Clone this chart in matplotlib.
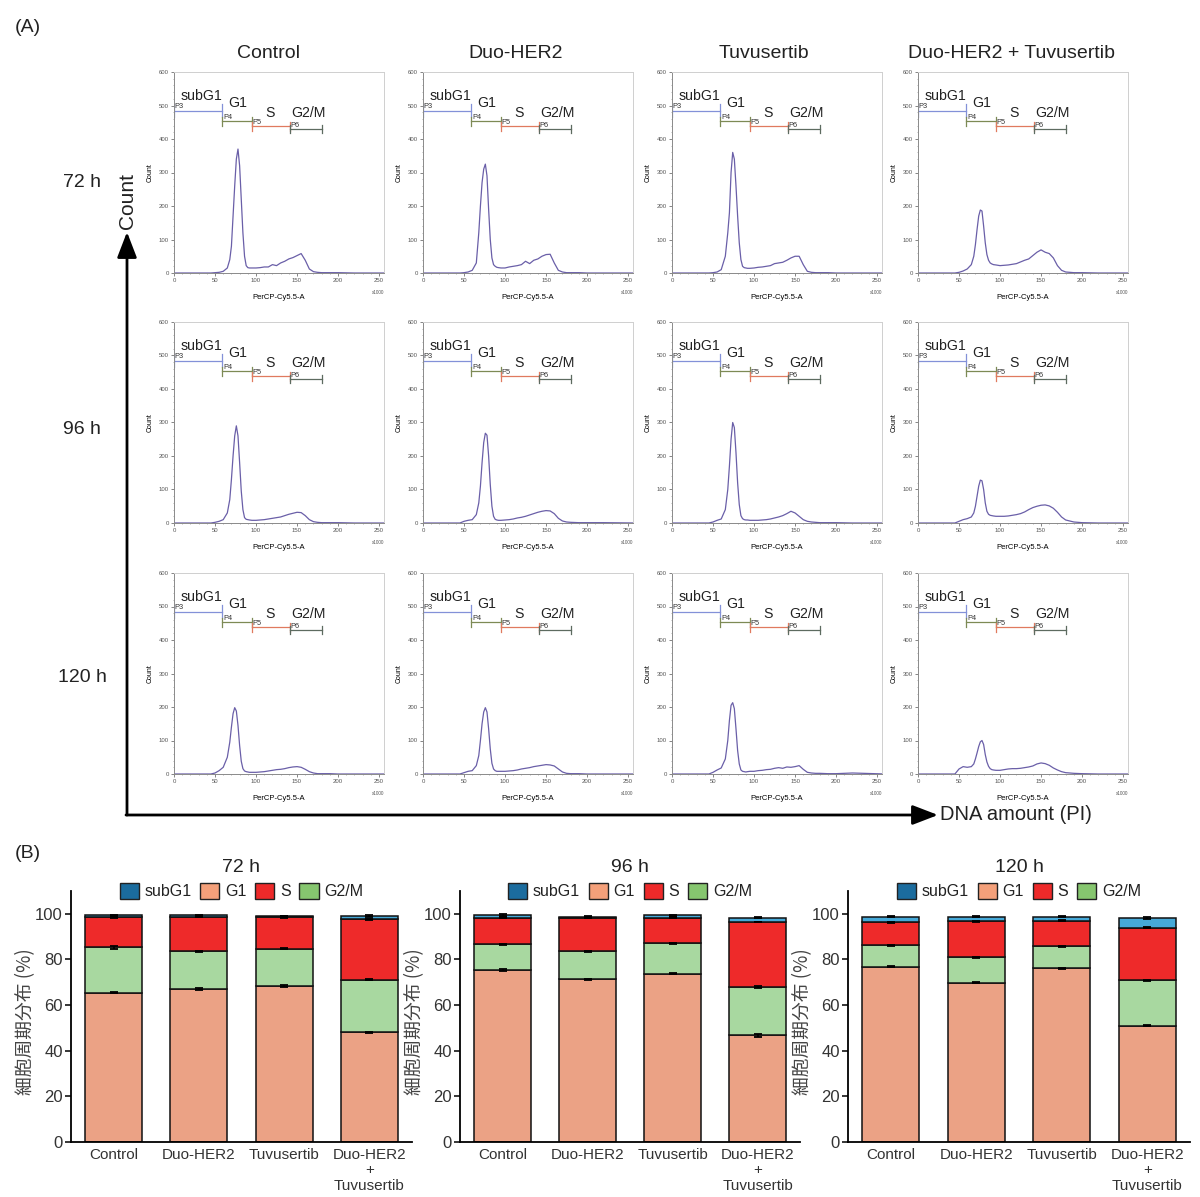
import matplotlib

matplotlib.use("Agg")
import matplotlib.patches as mpatches
import matplotlib.pyplot as plt
from matplotlib.ticker import MultipleLocator

W, H = 1200, 1197

TEXT = "#222222"
TRACE = "#6a5fa8"

CONDITIONS = ["Control", "Duo-HER2", "Tuvusertib", "Duo-HER2 + Tuvusertib"]
BAR_LABELS = ["Control", "Duo-HER2", "Tuvusertib", "Duo-HER2\n+\nTuvusertib"]
TIMES = ["72 h", "96 h", "120 h"]

# --- (A) DNA histograms: counts (x in units of 1000)
HIST_X = [0, 30, 45, 50, 55, 60,
          65, 68, 70, 72, 74, 76, 78, 80, 82, 84, 86, 88, 90, 92,
          95, 100, 105, 110, 115, 120, 125, 130, 135, 140,
          145, 150, 155, 160, 165, 170, 175, 180,
          190, 200, 220, 260]

COUNTS_72H = [
    [0, 0, 0, 1, 2, 5,
     15, 40, 80, 170, 260, 340, 370, 320, 220, 120, 50, 22, 16, 15,
     15, 15, 16, 18, 18, 25, 22, 30, 35, 42,
     46, 52, 58, 38, 12, 4, 2, 1,
     1, 1, 0, 0],
    [0, 0, 0, 1, 3, 8,
     30, 120, 200, 270, 310, 325, 290, 190, 100, 45, 25, 20, 17, 16,
     15, 15, 18, 20, 22, 25, 35, 28, 38, 42,
     50, 55, 56, 30, 8, 3, 1, 1,
     1, 0, 0, 0],
    [0, 0, 0, 1, 3, 10,
     50, 120, 180, 300, 360, 340, 260, 170, 90, 40, 20, 16, 15, 14,
     14, 15, 17, 18, 20, 22, 28, 30, 32, 38,
     45, 50, 50, 25, 5, 2, 1, 1,
     1, 0, 0, 0],
    [0, 0, 0, 2, 6, 12,
     25, 50, 85, 130, 170, 188, 185, 140, 90, 55, 38, 30, 27, 25,
     24, 22, 23, 24, 26, 28, 33, 38, 42, 52,
     62, 69, 62, 58, 45, 22, 8, 3,
     1, 1, 0, 0],
]
COUNTS_96H = [
    [0, 0, 0, 2, 5, 10,
     30, 70, 130, 200, 260, 290, 260, 180, 95, 40, 16, 11, 10, 9,
     8, 8, 9, 10, 12, 14, 16, 18, 22, 26,
     29, 32, 31, 22, 10, 4, 2, 1,
     1, 1, 0, 0],
    [0, 0, 0, 5, 8, 10,
     25, 60, 110, 180, 240, 268, 262, 200, 115, 50, 20, 11, 9, 8,
     8, 9, 10, 12, 15, 17, 20, 24, 28, 32,
     35, 37, 36, 28, 14, 6, 3, 2,
     1, 1, 1, 0],
    [0, 0, 0, 3, 8, 12,
     40, 100, 170, 250, 300, 285, 210, 120, 55, 22, 13, 10, 9, 9,
     8, 8, 8, 9, 10, 12, 15, 18, 22, 28,
     35, 30, 20, 10, 5, 3, 2, 1,
     1, 1, 0, 0],
    [0, 0, 0, 5, 10, 13,
     18, 30, 50, 80, 110, 128, 126, 100, 60, 35, 26, 23, 22, 21,
     20, 20, 20, 21, 23, 25, 28, 33, 40, 46,
     50, 53, 54, 51, 44, 32, 18, 9,
     3, 1, 0, 0],
]
COUNTS_120H = [
    [0, 0, 0, 3, 10, 20,
     50, 95, 140, 180, 198, 188, 145, 85, 38, 16, 9, 7, 6, 5,
     5, 5, 6, 7, 9, 11, 13, 14, 16, 19,
     21, 22, 20, 14, 7, 3, 1, 1,
     1, 0, 0, 0],
    [0, 0, 0, 4, 8, 10,
     25, 55, 100, 150, 185, 198, 185, 135, 75, 32, 15, 10, 8, 8,
     8, 8, 9, 10, 12, 15, 17, 19, 22, 24,
     26, 28, 27, 24, 15, 6, 2, 1,
     1, 0, 0, 0],
    [0, 0, 0, 5, 12, 18,
     45, 100, 160, 205, 213, 195, 135, 70, 30, 12, 8, 7, 6, 7,
     8, 8, 10, 11, 13, 14, 17, 19, 17, 21,
     20, 22, 25, 14, 5, 3, 2, 2,
     1, 1, 3, 0],
    [0, 0, 0, 15, 22, 20,
     22, 30, 45, 63, 82, 96, 100, 88, 58, 36, 23, 16, 13, 12,
     11, 11, 13, 15, 16, 16, 17, 19, 21, 24,
     30, 33, 31, 26, 18, 12, 7, 4,
     2, 1, 0, 0],
]

GATE_NAMES = ["P3", "P4", "P5", "P6"]
GATE_LO = [0, 59, 95, 141]
GATE_HI = [59, 95, 141, 180]
GATE_LEVEL = [485, 453, 438, 430]
GATE_COLORS = ["#8391d8", "#7d8a55", "#e07a5f", "#5d6b60"]

# --- (B) cell-cycle distribution (%), one row per time point
G1_PCT = [[65.4, 67.1, 68.5, 48.0],
          [75.4, 71.3, 73.7, 46.7],
          [76.9, 69.8, 76.2, 51.0]]
G2M_PCT = [[19.9, 16.5, 16.3, 23.2],
           [11.2, 12.3, 13.3, 21.2],
           [9.3, 11.2, 9.6, 19.8]]
S_PCT = [[13.4, 15.2, 13.8, 26.5],
         [11.6, 14.6, 11.2, 28.5],
         [10.1, 15.8, 11.1, 23.2]]
SUBG1_PCT = [[0.7, 0.5, 0.3, 1.3],
             [1.2, 0.5, 1.1, 1.9],
             [2.5, 2.0, 1.9, 4.1]]

G1_SD = [[0.2, 0.3, 0.5, 0.3], [0.3, 0.2, 0.2, 0.5], [0.3, 0.2, 0.2, 0.3]]
G2M_SD = [[0.6, 0.3, 0.4, 0.3], [0.2, 0.3, 0.2, 0.3], [0.2, 0.2, 0.3, 0.3]]
S_SD = [[0.4, 0.2, 0.3, 0.2], [0.2, 0.2, 0.2, 0.2], [0.2, 0.2, 0.2, 0.2]]
SUBG1_SD = [[0.3, 0.2, 0.2, 0.4], [0.4, 0.2, 0.2, 0.3], [0.2, 0.2, 0.2, 0.3]]

BAR_COLORS = {"subG1": "#46a9d8", "G1": "#eba285", "S": "#ee2a2a", "G2/M": "#a8d8a0"}
LEGEND_COLORS = {"subG1": "#1b6c9e", "G1": "#f4a07a", "S": "#ee2a2a", "G2/M": "#86c66f"}


def px_box(left, top, right, bottom):
    """ピクセル座標の矩形を figure 座標へ変換する。"""
    return [left / W, 1 - bottom / H, (right - left) / W, (bottom - top) / H]


def fx(x):
    return x / W


def fy(y):
    return 1 - y / H


def setup_style() -> None:
    plt.rcParams.update(
        {
            "font.family": ["Liberation Sans", "Noto Sans CJK JP", "DejaVu Sans"],
            "axes.unicode_minus": False,
            "figure.facecolor": "white",
            "text.color": TEXT,
        }
    )


def draw_histogram(ax, counts) -> None:
    ax.plot(HIST_X, counts, color=TRACE, lw=0.9)
    ax.set_xlim(0, 256)
    ax.set_ylim(0, 600)

    for name, lo, hi, level, color in zip(
        GATE_NAMES, GATE_LO, GATE_HI, GATE_LEVEL, GATE_COLORS
    ):
        half = 18 if name == "P3" else 13
        ax.plot([lo, hi], [level, level], color=color, lw=0.9)
        ax.plot([lo, lo], [level - half, level + half], color=color, lw=0.9)
        ax.plot([hi, hi], [level - half, level + half], color=color, lw=0.9)
        ax.text(lo + 1, level + 1, name, fontsize=5.3, color="#333333",
                va="bottom", ha="left")

    ax.text(8, 508, "subG1", fontsize=10.2, va="bottom")
    ax.text(66, 486, "G1", fontsize=10.2, va="bottom")
    ax.text(111, 457, "S", fontsize=10.2, va="bottom")
    ax.text(143, 457, "G2/M", fontsize=10.2, va="bottom")

    ax.xaxis.set_major_locator(MultipleLocator(50))
    ax.xaxis.set_minor_locator(MultipleLocator(10))
    ax.yaxis.set_major_locator(MultipleLocator(100))
    ax.yaxis.set_minor_locator(MultipleLocator(20))
    ax.tick_params(which="major", length=2, width=0.5, labelsize=4.3,
                   pad=1.5, colors="#555555")
    ax.tick_params(which="minor", length=1, width=0.4, colors="#777777")
    for side in ("top", "right"):
        ax.spines[side].set_color("#cfcfcf")
    for side in ("left", "bottom"):
        ax.spines[side].set_color("#8a8a8a")
    for spine in ax.spines.values():
        spine.set_linewidth(0.7)

    ax.set_ylabel("Count", fontsize=5, labelpad=4)
    ax.set_xlabel("PerCP-Cy5.5-A", fontsize=5.5, labelpad=8)
    ax.text(1.0, -0.085, "x1000", transform=ax.transAxes, fontsize=3.3,
            ha="right", va="top", color="#555555")


def build_panel_a(fig) -> None:
    fig.text(fx(15), fy(27), "(A)", fontsize=14, ha="left", va="center")

    col_left = [174, 423, 672, 918]
    col_title_x = [268, 516, 764, 1012]
    row_top = [72, 322, 573]
    row_label_y = [183, 430, 677]

    for title, x in zip(CONDITIONS, col_title_x):
        fig.text(fx(x), fy(54), title, fontsize=14, ha="center", va="center")
    for label, y in zip(TIMES, row_label_y):
        fig.text(fx(82), fy(y), label, fontsize=14, ha="center", va="center")

    for row, counts_row in enumerate([COUNTS_72H, COUNTS_96H, COUNTS_120H]):
        for col, counts in enumerate(counts_row):
            left, top = col_left[col], row_top[row]
            ax = fig.add_axes(px_box(left, top, left + 210, top + 201))
            draw_histogram(ax, counts)

    # 左下から伸びる Count / DNA amount の矢印
    style = "-|>,head_length=1.3,head_width=0.5"
    fig.add_artist(mpatches.FancyArrowPatch(
        (fx(127), fy(815)), (fx(127), fy(232)), transform=fig.transFigure,
        arrowstyle=style, mutation_scale=12,
        lw=2, color="black", shrinkA=0, shrinkB=0))
    fig.add_artist(mpatches.FancyArrowPatch(
        (fx(126), fy(815)), (fx(938), fy(815)), transform=fig.transFigure,
        arrowstyle=style, mutation_scale=12,
        lw=2, color="black", shrinkA=0, shrinkB=0))
    fig.text(fx(127), fy(201), "Count", fontsize=15, rotation=90,
             ha="center", va="center")
    fig.text(fx(940), fy(815), "DNA amount (PI)", fontsize=14.5,
             ha="left", va="center")


def build_panel_b(fig) -> None:
    fig.text(fx(15), fy(853), "(B)", fontsize=14, ha="left", va="center")

    boxes = [(71, 412), (460, 800), (848, 1190)]
    positions = list(range(len(BAR_LABELS)))
    for t, (time, (left, right)) in enumerate(zip(TIMES, boxes)):
        ax = fig.add_axes(px_box(left, 891, right, 1142))
        bottom = [0.0] * len(positions)
        stack = [
            ("G1", G1_PCT[t], G1_SD[t]),
            ("G2/M", G2M_PCT[t], G2M_SD[t]),
            ("S", S_PCT[t], S_SD[t]),
            ("subG1", SUBG1_PCT[t], SUBG1_SD[t]),
        ]
        for phase, values, sd in stack:
            ax.bar(positions, values, width=0.67, bottom=bottom,
                   color=BAR_COLORS[phase], edgecolor="#111111",
                   linewidth=1.1, zorder=2)
            bottom = [b + v for b, v in zip(bottom, values)]
            ax.errorbar(positions, bottom, yerr=sd, fmt="none",
                        ecolor="black", elinewidth=1.2, capsize=2.8,
                        capthick=1.3, zorder=3)

        ax.set_xlim(-0.5, 3.5)
        ax.set_ylim(0, 110)
        ax.set_yticks([0, 20, 40, 60, 80, 100])
        ax.set_xticks(positions)
        ax.set_xticklabels(BAR_LABELS, fontsize=11, color="#333333",
                           linespacing=1.15)
        ax.tick_params(axis="x", length=0, pad=4)
        ax.tick_params(axis="y", length=4, width=1.1, labelsize=12,
                       labelcolor="#333333", pad=2)
        for side in ("top", "right"):
            ax.spines[side].set_visible(False)
        for side in ("left", "bottom"):
            ax.spines[side].set_linewidth(1.3)
        ax.set_ylabel("細胞周期分布 (%)", fontsize=13.5, color="#444444",
                      family=["Noto Sans CJK JP", "Liberation Sans"])
        ax.yaxis.set_label_coords(-0.133, 0.48)
        ax.yaxis.label.set_verticalalignment("center")
        ax.text(0.5, 1.092, time, transform=ax.transAxes, fontsize=14,
                ha="center", va="center")

        handles = [
            mpatches.Patch(facecolor=LEGEND_COLORS[p], edgecolor="#222222",
                           linewidth=1.0, label=p)
            for p in ["subG1", "G1", "S", "G2/M"]
        ]
        ax.legend(handles=handles, ncol=4, loc="center",
                  bbox_to_anchor=(0.5, 1.0), frameon=False, fontsize=11.5,
                  handlelength=1.2, handleheight=1.2, handletextpad=0.35,
                  columnspacing=0.55, borderaxespad=0)


def main() -> None:
    setup_style()
    fig = plt.figure(figsize=(W / 100, H / 100), dpi=100)
    build_panel_a(fig)
    build_panel_b(fig)
    fig.savefig("out.png", dpi=100, facecolor="white")
    plt.close(fig)


if __name__ == "__main__":
    main()
